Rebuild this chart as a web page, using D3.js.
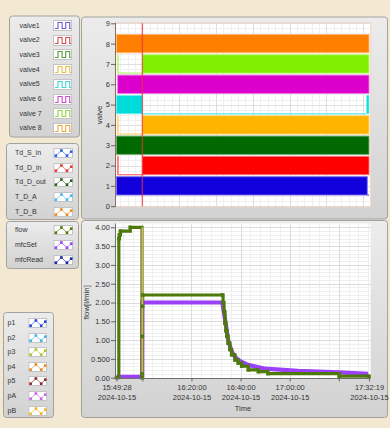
<!DOCTYPE html>
<html><head><meta charset="utf-8">
<script src="https://cdn.jsdelivr.net/npm/d3@7"></script>
<style>body{margin:0;background:#f3e9d2;} svg{display:block;font-family:"Liberation Sans",Arial,sans-serif;}</style>
</head><body><svg id="c" width="390" height="428"></svg>
<script>
const DAY = "2024-10-15 ";
const timeStart = "15:49:28", timeEnd = "17:32:19", cursorTime = "16:00:00";

const valveLabels = ["valve1","valve2","valve3","valve4","valve5","valve 6","valve 7","valve 8"];
const valveLegendColors = ["#6a5ad8","#d84a4a","#5c9a3c","#e6c040","#40d6d6","#d048d0","#94d43c","#f0a838"];
const valveFillColors = ["#1200dc","#ff0000","#006a00","#ffb400","#00dcdc","#dc00cc","#80f000","#ff8000"];
// [time, state] step data per valve
const valve1 = [["15:49:28",1],["17:31:37",0],["17:32:19",0]];
const valve2 = [["15:49:57",1],["15:50:10",0],["16:00:00",1],["17:32:19",1]];
const valve3 = [["15:49:28",1],["17:32:19",1]];
const valve4 = [["15:49:57",1],["15:50:10",0],["16:00:00",1],["17:32:19",1]];
const valve5 = [["15:49:28",1],["16:00:00",0],["17:31:23",1],["17:32:19",1]];
const valve6 = [["15:49:57",1],["17:32:19",1]];
const valve7 = [["15:49:57",1],["15:50:10",0],["16:00:00",1],["17:32:19",1]];
const valve8 = [["15:49:28",1],["17:32:19",1]];
const valveData = [valve1,valve2,valve3,valve4,valve5,valve6,valve7,valve8];
const valveTicks = [0,1,2,3,4,5,6,7,8,9];

const tempLabels = ["Td_S_in","Td_D_in","Td_D_out","T_D_A","T_D_B"];
const tempColors = ["#2a62e0","#e83a30","#2e5e1e","#48b8f0","#f08a20"];
const flowLabels = ["flow","mfcSet","mfcRead"];
const flowColors = ["#4e7a0c","#9a40f8","#1a22a8"];
const pressLabels = ["p1","p2","p3","p4","p5","pA","pB"];
const pressColors = ["#2448e0","#40b4e8","#a8c828","#e88a28","#902424","#c864e8","#f0b828"];

const flowTimes = ["15:49:28","15:50:25","15:50:40","15:51:05","15:55:05","15:59:52","15:59:55","15:59:58","16:00:02","16:00:08",
  "16:32:34","16:32:52","16:33:16","16:33:40","16:34:04","16:34:28","16:34:58","16:35:40","16:36:22","16:37:46",
  "16:39:04","16:40:28","16:43:10","16:47:16","16:51:10","17:20:13","17:32:19"];
const flowValues = [0.00,3.70,3.80,3.90,4.00,0.00,0.10,1.10,1.90,2.20,
  2.20,2.00,1.75,1.45,1.25,1.10,0.92,0.75,0.61,0.47,
  0.39,0.31,0.21,0.16,0.11,0.04,0.04];
const mfcSetTimes = ["15:49:28","15:59:58","16:00:00","16:32:34","16:33:40","16:34:58","16:36:22","16:37:46","16:39:46",
  "16:43:04","16:49:58","17:03:22","17:20:04","17:32:00"];
const mfcSetValues = [0.02,0.02,2.00,2.00,1.55,1.00,0.70,0.55,0.44,0.34,0.24,0.18,0.14,0.10];

const flowTicks = [0,0.5,1,1.5,2,2.5,3,3.5,4];
const flowTickLabels = ["0.00","0.500","1.00","1.50","2.00","2.50","3.00","3.50","4.00"];
const timeTicks = ["15:49:28","16:00:00","16:20:00","16:40:00","17:00:00","17:20:00","17:32:19"];
const timeTickLabels = ["15:49:28","","16:20:00","16:40:00","17:00:00","","17:32:19"];
const dateLabel = "2024-10-15";

const parse = d3.timeParse("%Y-%m-%d %H:%M:%S");
const T = s => parse(DAY + s);
const svg = d3.select("#c");
const defs = svg.append("defs");
const g1 = defs.append("linearGradient").attr("id","pg").attr("x1",0).attr("y1",0).attr("x2",0).attr("y2",1);
g1.append("stop").attr("offset","0").attr("stop-color","#ececec");
g1.append("stop").attr("offset","1").attr("stop-color","#d2d2d2");

function panel(x,y,w,h){
  svg.append("rect").attr("x",x+0.5).attr("y",y+0.5).attr("width",w).attr("height",h).attr("rx",3)
    .attr("fill","url(#pg)").attr("stroke","#a2a2a2");
}

// chart panels
panel(81,16.5,306,202);
panel(81,220,306,197);

const x = d3.scaleTime().domain([T(timeStart),T(timeEnd)]).range([116.5,369]);
const yV = d3.scaleLinear().domain([0,9]).range([206.2,23.3]);
const yF = d3.scaleLinear().domain([0,4]).range([377.7,227.3]);

const P1 = {x0:115.5,x1:370.7,y0:22.8,y1:206.8};
const P2 = {x0:115.5,x1:370.7,y0:223.5,y1:378.5};

function plotBg(P){
  svg.append("rect").attr("x",P.x0).attr("y",P.y0).attr("width",P.x1-P.x0).attr("height",P.y1-P.y0).attr("fill","#fff");
}
function grid(P, xs, ys, color, w){
  const g = svg.append("g").attr("stroke",color).attr("stroke-width",w);
  xs.forEach(v=>{ const xx=Math.round(x(v))+0.5; if(xx>P.x0&&xx<P.x1) g.append("line").attr("x1",xx).attr("x2",xx).attr("y1",P.y0).attr("y2",P.y1);});
  ys.forEach(yy=>{ yy=Math.round(yy)+0.5; if(yy>P.y0&&yy<P.y1) g.append("line").attr("y1",yy).attr("y2",yy).attr("x1",P.x0).attr("x2",P.x1);});
}

// ---------- upper chart ----------
plotBg(P1);
grid(P1, d3.timeMinute.every(3).range(T(timeStart),T(timeEnd)), d3.range(0,9.01,0.25).map(yV), "#f0f0f0", 1);
grid(P1, d3.timeMinute.every(15).range(T(timeStart),T(timeEnd)), valveTicks.map(yV), "#dedede", 1);

const vg = svg.append("g");
valveData.forEach((data,i)=>{
  const k = i+1, col = valveFillColors[i];
  const edge = d3.interpolateRgb(col,"#ffffff")(0.45);
  const pts = data.map(d=>({t:T(d[0]),s:d[1]}));
  for(let j=0;j<pts.length-1;j++){
    const xa = x(pts[j].t), xb = x(pts[j+1].t);
    if(pts[j].s===1){
      vg.append("rect").attr("x",xa).attr("y",yV(k+0.45)).attr("width",Math.max(0.1,xb-xa)).attr("height",yV(k-0.45)-yV(k+0.45))
        .attr("fill",col).attr("stroke",edge).attr("stroke-width",0.9);
    } else {
      vg.append("line").attr("x1",xa).attr("x2",xb).attr("y1",yV(k-0.45)).attr("y2",yV(k-0.45))
        .attr("stroke",edge).attr("stroke-width",1.3);
    }
  }
});
// cursor
svg.append("line").attr("x1",x(T(cursorTime))).attr("x2",x(T(cursorTime))).attr("y1",P1.y0).attr("y2",P1.y1)
  .attr("stroke","#e8303a").attr("stroke-opacity",0.7).attr("stroke-width",1.4);
svg.append("rect").attr("x",P1.x0).attr("y",P1.y0).attr("width",P1.x1-P1.x0).attr("height",P1.y1-P1.y0)
  .attr("fill","none").attr("stroke","#f0d4c4").attr("stroke-width",1);

const axV = svg.append("g").attr("transform",`translate(${P1.x0},0)`)
  .call(d3.axisLeft(yV).tickValues(valveTicks).tickSize(4.5).tickPadding(1.2).tickFormat(d3.format("d")));
axV.select(".domain").attr("stroke","#8a6e60").attr("d",`M0,${P1.y0}V${P1.y1}`);
axV.selectAll(".tick line").attr("stroke","#666");
axV.selectAll("text").attr("font-size","7.5px").attr("fill","#333").attr("font-family","Liberation Sans, Arial, sans-serif");
svg.append("text").attr("transform",`translate(102,${(P1.y0+P1.y1)/2}) rotate(-90)`).attr("text-anchor","middle")
  .attr("font-size","8px").attr("fill","#333").text("valve");

// ---------- lower chart ----------
plotBg(P2);
grid(P2, d3.timeMinute.every(4).range(T(timeStart),T(timeEnd)), d3.range(0,4.01,0.1).map(yF), "#efefef", 1);
grid(P2, d3.timeMinute.every(20).range(T(timeStart),T(timeEnd)), flowTicks.map(yF), "#dcdcdc", 1);

const mfcPts = mfcSetTimes.map((t,i)=>[x(T(t)),yF(mfcSetValues[i])]);
svg.append("path").attr("d",d3.line()(mfcPts)).attr("fill","none").attr("stroke",flowColors[1]).attr("stroke-width",4.2);

const flowPts = flowTimes.map((t,i)=>[x(T(t)),yF(flowValues[i])]);
svg.append("path").attr("d",d3.line().curve(d3.curveStepAfter)(flowPts)).attr("fill","none")
  .attr("stroke",flowColors[0]).attr("stroke-width",3.2);

// cursor (over the flow line, under its markers)
svg.append("line").attr("x1",x(T(cursorTime))).attr("x2",x(T(cursorTime))).attr("y1",yF(4)).attr("y2",yF(0))
  .attr("stroke","#d8b070").attr("stroke-width",1.8);

svg.append("g").selectAll("rect").data(flowPts).join("rect")
  .attr("x",d=>d[0]-1.8).attr("y",d=>d[1]-1.8).attr("width",3.6).attr("height",3.6).attr("fill",flowColors[0]);

const axF = svg.append("g").attr("transform",`translate(${P2.x0},0)`)
  .call(d3.axisLeft(yF).tickValues(flowTicks).tickSize(4.5).tickPadding(1.2).tickFormat((d,i)=>flowTickLabels[i]));
axF.select(".domain").attr("stroke","#707070").attr("d",`M0,${P2.y0}V${P2.y1}`);
axF.selectAll(".tick line").attr("stroke","#666");
axF.selectAll("text").attr("font-size","7.5px").attr("fill","#333").attr("font-family","Liberation Sans, Arial, sans-serif");

const axT = svg.append("g").attr("transform",`translate(0,${P2.y1})`)
  .call(d3.axisBottom(x).tickValues(timeTicks.map(T)).tickSize(3).tickPadding(3).tickFormat(()=>""));
axT.select(".domain").attr("stroke","#707070").attr("d",`M${P2.x0},0H${P2.x1}`);
axT.selectAll(".tick line").attr("stroke","#666");
axT.selectAll(".tick text").each(function(d,i){
  const tx = d3.select(this).attr("font-size","7.5px").attr("fill","#333").attr("font-family","Liberation Sans, Arial, sans-serif").attr("dy",null).attr("y",11.5);
  if(timeTickLabels[i]){
    tx.append("tspan").attr("x",0).text(timeTickLabels[i]);
    tx.append("tspan").attr("x",0).attr("dy",10).text(dateLabel);
  }
});
svg.append("text").attr("x",243).attr("y",410.5).attr("text-anchor","middle").attr("font-size","7.5px").attr("fill","#333").text("Time");
svg.append("text").attr("transform",`translate(89,${(yF(0)+yF(4))/2}) rotate(-90)`).attr("text-anchor","middle")
  .attr("font-size","7.8px").attr("fill","#333").text("flow[l/min]");

// ---------- legends ----------
function legend(px,py,pw,ph, labels, colors, y0, dy, lx, bx, bw, bh, kind){
  panel(px,py,pw,ph);
  const g = svg.append("g");
  labels.forEach((lab,i)=>{
    const cy = y0 + i*dy;
    g.append("text").attr("x",lx).attr("y",cy+2.5).attr("font-size","7px").attr("fill","#333").text(lab);
    g.append("rect").attr("x",bx+0.5).attr("y",Math.round(cy-bh/2)+0.5).attr("width",bw).attr("height",bh)
      .attr("fill","#fff").attr("stroke","#c4c4c4");
    const top = Math.round(cy-bh/2)+0.5;
    if(kind==="sq"){
      const xs=[0.08,0.25,0.25,0.48,0.48,0.68,0.68,0.9,0.9,0.97], ys=[0.8,0.8,0.2,0.2,0.8,0.8,0.2,0.2,0.8,0.8];
      g.append("path").attr("d",d3.line()(xs.map((v,j)=>[bx+0.5+v*bw, top+ys[j]*bh]))).attr("fill","none")
        .attr("stroke",colors[i]).attr("stroke-width",1.1);
    } else {
      const pts=[[0.1,0.8],[0.4,0.22],[0.7,0.8],[0.93,0.35]].map(p=>[bx+0.5+p[0]*bw, top+p[1]*bh]);
      g.append("path").attr("d",d3.line()(pts)).attr("fill","none").attr("stroke",d3.interpolateRgb(colors[i],"#fff")(0.35)).attr("stroke-width",1);
      pts.forEach(p=>g.append("rect").attr("x",p[0]-1.3).attr("y",p[1]-1.3).attr("width",2.6).attr("height",2.6).attr("fill",colors[i]));
    }
  });
}
legend(9,15.5,70,121, valveLabels, valveLegendColors, 25, 14.7, 19.5, 53, 18, 10, "sq");
legend(6,143,72,76, tempLabels, tempColors, 152.7, 14.6, 15, 53.5, 18.5, 9, "zz");
legend(6,221,72,47, flowLabels, flowColors, 229.3, 15, 15, 53.5, 18.5, 9, "zz");
legend(3,312,50,105, pressLabels, pressColors, 322.7, 14.55, 7.5, 28.3, 17.7, 9, "zz");
</script></body></html>
